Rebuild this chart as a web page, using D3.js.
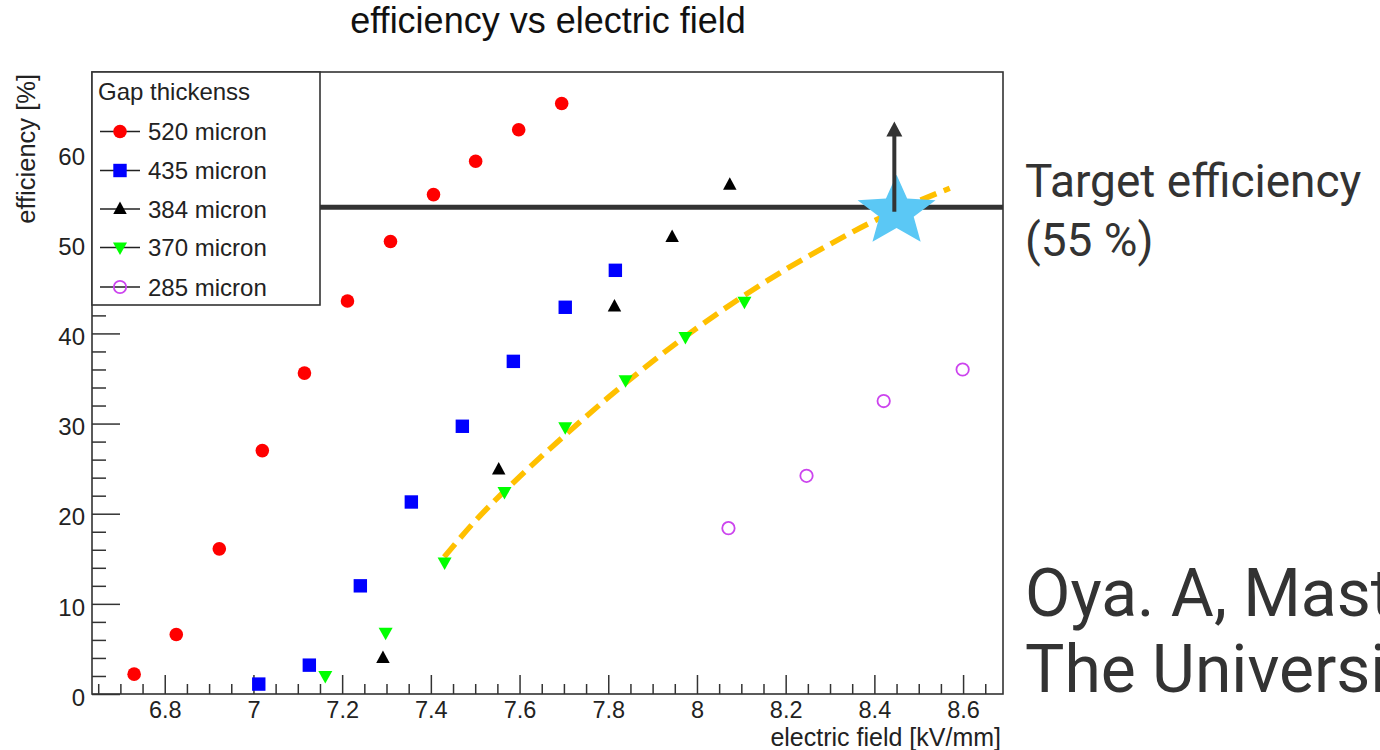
<!DOCTYPE html>
<html>
<head>
<meta charset="utf-8">
<script src="https://cdn.jsdelivr.net/npm/d3@7"></script>
<style>
  html, body { margin: 0; padding: 0; background: #fff; overflow: hidden; }
  svg { display: block; }
</style>
</head>
<body>
<svg id="chart" width="1380" height="750"></svg>
<script>
// ---------- data ----------
const x520 = [6.731, 6.826, 6.923, 7.020, 7.115, 7.212, 7.309, 7.406, 7.501, 7.598, 7.695];
const y520 = [2.2, 6.6, 16.1, 27.0, 35.6, 43.6, 50.2, 55.4, 59.1, 62.6, 65.5];
const x435 = [7.012, 7.126, 7.241, 7.356, 7.471, 7.586, 7.703, 7.816];
const y435 = [1.1, 3.2, 12.0, 21.3, 29.7, 36.9, 42.9, 47.0];
const x384 = [7.292, 7.553, 7.814, 7.944, 8.074];
const y384 = [4.0, 24.9, 43.0, 50.7, 56.5];
const x370 = [7.162, 7.298, 7.431, 7.566, 7.703, 7.839, 7.974, 8.107];
const y370 = [2.0, 6.8, 14.6, 22.4, 29.6, 34.8, 39.6, 43.5];
const x285 = [8.071, 8.247, 8.421, 8.599];
const y285 = [18.4, 24.2, 32.5, 36.0];
const seriesNames = ["520 micron", "435 micron", "384 micron", "370 micron", "285 micron"];

// estimated fit curve (orange dashed)
const fitX = [7.43, 7.5, 7.6, 7.7, 7.8, 7.9, 8.0, 8.1, 8.2, 8.3, 8.4, 8.5, 8.57];
const fitY = [15.2, 19.2, 24.1, 28.6, 32.9, 36.9, 40.6, 44.0, 47.1, 49.9, 52.5, 54.7, 56.1];

const targetEff = 54.0;
const starPoint = [8.45, 53.5];
const arrowFrom = [8.445, 53.5];
const arrowTo = [8.445, 63.5];

const xTickValues = [6.8, 7.0, 7.2, 7.4, 7.6, 7.8, 8.0, 8.2, 8.4, 8.6];
const xTickLabels = ["6.8", "7", "7.2", "7.4", "7.6", "7.8", "8", "8.2", "8.4", "8.6"];
const yTickValues = [0, 10, 20, 30, 40, 50, 60];
const yTickLabels = ["0", "10", "20", "30", "40", "50", "60"];
const xDomain = [6.636, 8.69];
const yDomain = [0, 69];

// ---------- layout ----------
const svg = d3.select("#chart");
const L = 92, R = 1003, T = 72, B = 694;
const x = d3.scaleLinear().domain(xDomain).range([L, R]);
const y = d3.scaleLinear().domain(yDomain).range([B, T]);
const axisColor = "#333";
const sansFont = "'Liberation Sans', Arial, Helvetica, sans-serif";

// title
svg.append("text").attr("x", 548).attr("y", 33).attr("text-anchor", "middle")
  .style("font-family", sansFont).style("font-size", "36px").attr("fill", "#111")
  .text("efficiency vs electric field");

// axes: minor ticks
const xMinor = d3.range(6.65, 8.69, 0.05).filter(v => Math.abs(v * 5 - Math.round(v * 5)) > 1e-6);
const yMinor = d3.range(2, 69, 2).filter(v => v % 10 !== 0);

svg.append("g").attr("transform", `translate(0,${B})`)
  .call(d3.axisBottom(x).tickValues(xMinor).tickSize(-10).tickFormat(""))
  .call(g => g.select(".domain").remove())
  .call(g => g.selectAll("line").attr("stroke", axisColor).attr("stroke-width", 1.5));
svg.append("g").attr("transform", `translate(${L},0)`)
  .call(d3.axisLeft(y).tickValues(yMinor).tickSize(-14).tickFormat(""))
  .call(g => g.select(".domain").remove())
  .call(g => g.selectAll("line").attr("stroke", axisColor).attr("stroke-width", 1.5));

// major
svg.append("g").attr("transform", `translate(0,${B})`)
  .call(d3.axisBottom(x).tickValues(xTickValues).tickSize(-19).tickPadding(7.5)
    .tickFormat((d, i) => xTickLabels[i]))
  .call(g => g.select(".domain").remove())
  .call(g => g.selectAll("line").attr("stroke", axisColor).attr("stroke-width", 1.5))
  .call(g => g.selectAll("text").style("font-family", sansFont).style("font-size", "23.5px").attr("fill", "#222"));
svg.append("g").attr("transform", `translate(${L},0)`)
  .call(d3.axisLeft(y).tickValues(yTickValues).tickSize(-28).tickPadding(7)
    .tickFormat((d, i) => yTickLabels[i]))
  .call(g => g.select(".domain").remove())
  .call(g => g.selectAll("line").attr("stroke", axisColor).attr("stroke-width", 1.5))
  .call(g => g.selectAll("text").style("font-family", sansFont).style("font-size", "24px")
    .attr("fill", "#222").attr("dy", "0.47em"));

// frame
svg.append("rect").attr("x", L).attr("y", T).attr("width", R - L).attr("height", B - T)
  .attr("fill", "none").attr("stroke", axisColor).attr("stroke-width", 1.6);

// axis titles
svg.append("text").attr("x", 1001).attr("y", 745.5).attr("text-anchor", "end")
  .style("font-family", sansFont).style("font-size", "25px").attr("fill", "#222")
  .text("electric field [kV/mm]");
svg.append("text").attr("transform", "translate(35,74) rotate(-90)").attr("text-anchor", "end")
  .style("font-family", sansFont).style("font-size", "25.5px").attr("fill", "#222")
  .text("efficiency [%]");

// target line
svg.append("line").attr("x1", L).attr("x2", R).attr("y1", y(targetEff)).attr("y2", y(targetEff))
  .attr("stroke", "#333").attr("stroke-width", 5);

// fit curve
const fitPts = fitX.map((v, i) => [v, fitY[i]]);
svg.append("path").datum(fitPts)
  .attr("d", d3.line().x(d => x(d[0])).y(d => y(d[1])).curve(d3.curveMonotoneX))
  .attr("fill", "none").attr("stroke", "#FFC000").attr("stroke-width", 5.5)
  .attr("stroke-dasharray", "17,8");

// markers
const triUp = (w, h) => `M0,${-h * 0.6}L${w / 2},${h * 0.4}L${-w / 2},${h * 0.4}Z`;
const triDown = (w, h) => `M0,${h * 0.6}L${w / 2},${-h * 0.4}L${-w / 2},${-h * 0.4}Z`;
function drawMarker(g, kind, cx, cy) {
  if (kind === 0) g.append("circle").attr("cx", cx).attr("cy", cy).attr("r", 6.8).attr("fill", "#FF0000");
  else if (kind === 1) g.append("rect").attr("x", cx - 6.7).attr("y", cy - 6.7).attr("width", 13.4).attr("height", 13.4).attr("fill", "#0000FF");
  else if (kind === 2) g.append("path").attr("d", triUp(13.5, 12.5)).attr("transform", `translate(${cx},${cy})`).attr("fill", "#000");
  else if (kind === 3) g.append("path").attr("d", triDown(14, 12.5)).attr("transform", `translate(${cx},${cy})`).attr("fill", "#00FF00");
  else g.append("circle").attr("cx", cx).attr("cy", cy).attr("r", 6.2).attr("fill", "none").attr("stroke", "#CC44EE").attr("stroke-width", 1.8);
}
const allSeries = [[x520, y520], [x435, y435], [x384, y384], [x370, y370], [x285, y285]];
const mg = svg.append("g");
allSeries.forEach((s, k) => s[0].forEach((v, i) => drawMarker(mg, k, x(v), y(s[1][i]))));

// arrow head
const ax = x(arrowFrom[0]);
svg.append("path").attr("d", `M${ax},${y(arrowTo[1])}L${ax + 8},${y(arrowTo[1]) + 15}L${ax - 8},${y(arrowTo[1]) + 15}Z`)
  .attr("fill", "#333");

// star
const starPts = [];
for (let i = 0; i < 10; i++) {
  const a = -Math.PI / 2 + i * Math.PI / 5;
  const r = i % 2 === 0 ? 1 : 0.44;
  starPts.push([Math.cos(a) * r * 41, Math.sin(a) * r * 37]);
}
svg.append("path").attr("d", d3.line()(starPts) + "Z")
  .attr("transform", `translate(${x(starPoint[0])},${y(starPoint[1])})`)
  .attr("fill", "#5BC8F5");
// arrow shaft over star
svg.append("line").attr("x1", ax).attr("x2", ax).attr("y1", y(arrowFrom[1])).attr("y2", y(arrowTo[1]) + 12)
  .attr("stroke", "#333").attr("stroke-width", 4);

// legend
const lg = svg.append("g");
lg.append("rect").attr("x", L).attr("y", T).attr("width", 228).attr("height", 233)
  .attr("fill", "#fff").attr("stroke", axisColor).attr("stroke-width", 1.6);
lg.append("text").attr("x", 98).attr("y", 100).style("font-family", sansFont).style("font-size", "24px")
  .attr("fill", "#222").text("Gap thickenss");
const legY = [131.5, 170.5, 209, 247.5, 287];
seriesNames.forEach((n, k) => {
  lg.append("line").attr("x1", 100).attr("x2", 140).attr("y1", legY[k]).attr("y2", legY[k])
    .attr("stroke", "#222").attr("stroke-width", 1.3);
  drawMarker(lg, k, 120, legY[k]);
  lg.append("text").attr("x", 148).attr("y", legY[k] + 8.5).style("font-family", sansFont)
    .style("font-size", "24px").attr("fill", "#222").text(n);
});

// annotations
const annFont = "Roboto, 'Noto Sans', sans-serif";
svg.append("text").attr("x", 1025).attr("y", 197).style("font-family", annFont).style("font-size", "46px")
  .attr("fill", "#333").text("Target efficiency");
svg.append("text").attr("x", 1025).attr("y", 256).style("font-family", annFont).style("font-size", "46px")
  .attr("fill", "#333").text("(55 %)");
svg.append("text").attr("x", 1025).attr("y", 616).style("font-family", annFont).style("font-size", "66px")
  .attr("fill", "#333").text("Oya. A, Master thesis");
svg.append("text").attr("x", 1025).attr("y", 692).style("font-family", annFont).style("font-size", "66px")
  .attr("fill", "#333").text("The University of Tokyo");
</script>
</body>
</html>
